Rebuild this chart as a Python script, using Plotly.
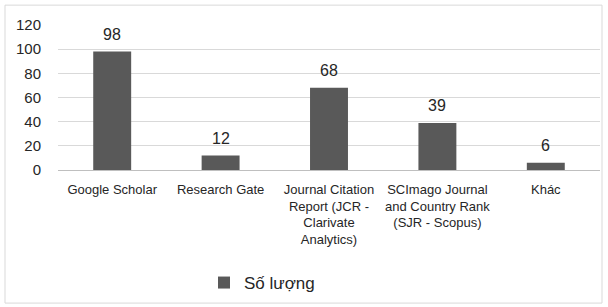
import plotly.graph_objects as go

categories = [
    "Google Scholar",
    "Research Gate",
    "Journal Citation<br>Report (JCR -<br>Clarivate<br>Analytics)",
    "SCImago Journal<br>and Country Rank<br>(SJR - Scopus)",
    "Khác",
]
values = [98, 12, 68, 39, 6]
series_name = "Số lượng"
y_ticks = [0, 20, 40, 60, 80, 100, 120]

W, H = 608, 307
ml, mr, mt, mb = 58, 8, 25, 136
pw, ph = W - ml - mr, H - mt - mb

def px(x):
    return (x - ml) / pw

def py(y):
    return (H - mb - y) / ph

font_family = "Liberation Sans, Arial, sans-serif"

fig = go.Figure(
    go.Bar(
        x=categories,
        y=values,
        name=series_name,
        marker=dict(color="#595959", line=dict(width=0)),
        cliponaxis=False,
        showlegend=True,
        hoverinfo="x+y",
    )
)

annotations = [
    dict(
        x=c,
        y=v,
        xref="x",
        yref="y",
        text=str(v),
        showarrow=False,
        yanchor="bottom",
        yshift=7,
        font=dict(size=16, color="#262626", family=font_family),
    )
    for c, v in zip(categories, values)
]

fig.update_layout(
    width=W,
    height=H,
    margin=dict(l=ml, r=mr, t=mt, b=mb),
    paper_bgcolor="white",
    plot_bgcolor="white",
    bargap=0.65,
    font=dict(family=font_family, color="#262626", size=13),
    xaxis=dict(
        showgrid=False,
        showline=True,
        linecolor="#bfbfbf",
        linewidth=1,
        ticks="",
        ticklabelstandoff=7,
        tickfont=dict(size=13, color="#262626"),
        fixedrange=True,
    ),
    yaxis=dict(
        range=[0, 120],
        tickvals=y_ticks,
        showgrid=True,
        gridcolor="#d9d9d9",
        gridwidth=1,
        zeroline=False,
        showline=False,
        ticks="",
        ticklabelstandoff=16,
        tickfont=dict(size=15, color="#262626"),
        fixedrange=True,
    ),
    showlegend=True,
    legend=dict(
        orientation="h",
        x=px(262),
        xanchor="center",
        y=py(283),
        yanchor="middle",
        font=dict(size=17, color="#262626"),
        itemwidth=30,
    ),
    annotations=annotations,
    shapes=[
        dict(
            type="rect",
            xref="paper",
            yref="paper",
            x0=px(5),
            x1=px(602),
            y0=py(305),
            y1=py(5),
            line=dict(color="#d9d9d9", width=1),
            fillcolor="rgba(0,0,0,0)",
            layer="below",
        )
    ],
)

fig.write_html("out.html", config={"displayModeBar": False})

with open("out.html", "r", encoding="utf-8") as f:
    html = f.read()
html = html.replace("<body>", '<body style="margin:0;padding:0;overflow:hidden">', 1)
with open("out.html", "w", encoding="utf-8") as f:
    f.write(html)
